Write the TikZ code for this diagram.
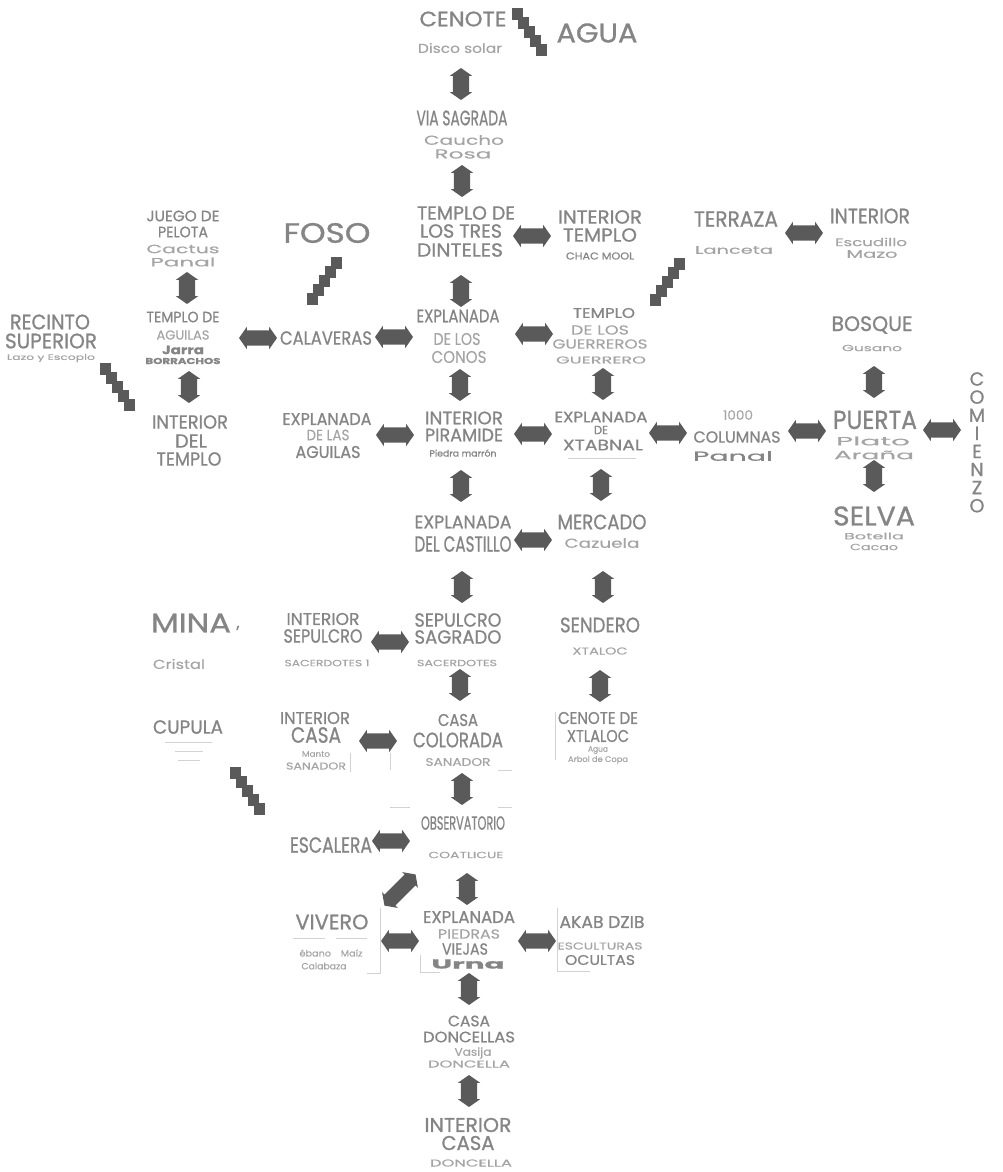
\documentclass[tikz,border=0pt]{standalone}
\usepackage{fontspec}
\usepackage{graphicx}
\setmainfont{Poppins}[FakeBold=0.9]
\newfontfamily\lightf{Poppins}[FakeBold=0.3]
\usetikzlibrary{shapes.arrows}
\definecolor{tx}{HTML}{858585}
\definecolor{txl}{HTML}{A4A4A4}
\definecolor{ar}{HTML}{5A5A5A}
\definecolor{fl}{HTML}{D2D2D2}
\newcommand\W[2]{\resizebox{#1pt}{\height}{#2}}
\newcommand\stairD[2]{\foreach \i in {0,...,4}{\fill[ar] ({#1+6*\i},{#2+9*\i}) rectangle ++(11,12);}}
\newcommand\stairU[2]{\foreach \i in {0,...,4}{\fill[ar] ({#1+6*\i},{#2-9*\i}) rectangle ++(11,-12);}}
\tikzset{
  every node/.style={inner sep=0pt, outer sep=0pt},
  T/.style={text=tx, font=\fontsize{#1}{#1}\selectfont},
  S/.style={text=txl, font=\lightf\fontsize{#1}{#1}\selectfont},
  B/.style={text=tx, font=\bfseries\fontsize{#1}{#1}\selectfont},
  harrow/.style={double arrow, fill=ar, minimum height=38pt, inner xsep=0pt, inner ysep=7.5pt,
    double arrow head extend=3.5pt, double arrow tip angle=110},
  varrow/.style={double arrow, fill=ar, rotate=90, minimum height=32pt, inner xsep=0pt, inner ysep=8pt,
    double arrow head extend=3pt, double arrow tip angle=110},
  faint/.style={draw=fl, line width=0.8pt},
}
\begin{document}
\begin{tikzpicture}[x=1pt,y=-1pt]
\useasboundingbox (0,0) rectangle (1003,1172);
% ---------- texts ----------
\node[T=21] (cenote) at (463,19) {\W{87}{CENOTE}};
\node[S=13] (disco) at (460,48) {\W{84}{Disco solar}};
\node[T=27] (agua) at (597,33) {\W{81}{AGUA}};
\node[T=21] (via) at (462,118) {\W{91}{VIA SAGRADA}};
\node[S=13] (caucho) at (464,140) {\W{80}{Caucho}};
\node[S=13] (rosa) at (463,154) {\W{57}{Rosa}};
\node[T=19] (tdd1) at (466,213) {\W{98}{TEMPLO DE}};
\node[T=19] (tdd2) at (461,231) {\W{82}{LOS TRES}};
\node[T=19] (tdd3) at (460,250) {\W{86}{DINTELES}};
\node[T=19] (it1) at (600,217) {\W{84}{INTERIOR}};
\node[T=19] (it2) at (600,235) {\W{74}{TEMPLO}};
\node[T=10] (it3) at (600,256) {\W{68}{CHAC MOOL}};
\node[T=22] (terr) at (736,219) {\W{84}{TERRAZA}};
\node[S=11] (lanc) at (734,250) {\W{78}{Lanceta}};
\node[T=21] (int1) at (870,216) {\W{80}{INTERIOR}};
\node[S=11] (int2) at (871,242) {\W{72}{Escudillo}};
\node[S=11] (int3) at (872,254) {\W{51}{Mazo}};
\node[T=15] (jp1) at (183,216) {\W{73}{JUEGO DE}};
\node[T=15] (jp2) at (183,232) {\W{50}{PELOTA}};
\node[S=12] (jp3) at (183,249) {\W{73}{Cactus}};
\node[S=12] (jp4) at (183,262) {\W{65}{Panal}};
\node[T=28] (foso) at (327,233) {\W{87}{FOSO}};
\node[T=21] (rec1) at (50,322) {\W{80}{RECINTO}};
\node[T=21] (rec2) at (51,341) {\W{92}{SUPERIOR}};
\node[S=8] (rec3) at (51,358) {\W{88}{Lazo y Escoplo}};
\node[T=15] (ta1) at (183,317) {\W{73}{TEMPLO DE}};
\node[S=13] (ta2) at (183,335) {\W{53}{AGUILAS}};
\node[B=12] (ta3) at (183,350) {\W{42}{Jarra}};
\node[B=8.5] (ta4) at (183,361) {\W{75}{BORRACHOS}};
\node[T=19] (itp1) at (190,422) {\W{76}{INTERIOR}};
\node[T=19] (itp2) at (191,441) {\W{32}{DEL}};
\node[T=19] (itp3) at (189,459) {\W{65}{TEMPLO}};
\node[T=19] (cal) at (326,338) {\W{92}{CALAVERAS}};
\node[T=18] (con1) at (458,316) {\W{83}{EXPLANADA}};
\node[S=17] (con2) at (457,339) {\W{47}{DE LOS}};
\node[S=17] (con3) at (459,357) {\W{55}{CONOS}};
\node[T=14] (tg1) at (604,313) {\W{62}{TEMPLO}};
\node[S=13] (tg2) at (600,330) {\W{58}{DE LOS}};
\node[S=13] (tg3) at (600,344) {\W{95}{GUERREROS}};
\node[S=10] (tg4) at (601,360) {\W{90}{GUERRERO}};
\node[T=15] (xt1) at (601,417) {\W{93}{EXPLANADA}};
\node[T=12] (xt2) at (601,430) {\W{14}{DE}};
\node[T=15] (xt3) at (603,445) {\W{80}{XTABNAL}};
\draw[faint] (568,458) -- (636,458);
\node[T=17] (ea1) at (327,419) {\W{89}{EXPLANADA}};
\node[S=15] (ea2) at (328,435) {\W{43}{DE LAS}};
\node[T=17] (ea3) at (328,452) {\W{65}{AGUILAS}};
\node[T=18] (pir1) at (464,418) {\W{78}{INTERIOR}};
\node[T=18] (pir2) at (464,435) {\W{78}{PIRAMIDE}};
\node[T=9] (pir3) at (463,453) {\W{67}{Piedra marrón}};
\node[S=13] (col1) at (738,415) {\W{30}{1000}};
\node[T=16] (col2) at (737,437) {\W{87}{COLUMNAS}};
\node[T=13] (col3) at (733,456) {\W{80}{Panal}};
\node[T=21] (bos1) at (872,325) {\W{81}{BOSQUE}};
\node[S=9] (bos2) at (872,348) {\W{60}{Gusano}};
\node[T=26] (pue1) at (875,420) {\W{84}{PUERTA}};
\node[S=12] (pue2) at (873,441) {\W{74}{Plato}};
\node[S=12] (pue3) at (874,455) {\W{80}{Araña}};
\node[T=27] (selva) at (874,516) {\W{82}{SELVA}};
\node[S=9] (sel2) at (874,536) {\W{60}{Botella}};
\node[S=9] (sel3) at (874,547) {\W{48}{Cacao}};
\foreach \c [count=\k] in {C,O,M,I,E,N,Z,O}
  \node[T=19] (com\k) at (977,{379+18.1*(\k-1)}) {\c};
\node[T=18] (cas1) at (463,522) {\W{97}{EXPLANADA}};
\node[T=22] (cas2) at (463,544) {\W{97}{DEL CASTILLO}};
\node[T=21] (mer1) at (602,522) {\W{89}{MERCADO}};
\node[S=13] (mer2) at (602,543) {\W{75}{Cazuela}};
\node[T=27] (mina) at (191,623) {\W{80}{MINA}};
\node[T=16] (minac) at (238,628) {,};
\node[S=13] (cris) at (179,664) {\W{52}{Cristal}};
\node[T=17] (is1) at (323,619) {\W{73}{INTERIOR}};
\node[T=19] (is2) at (323,636) {\W{79}{SEPULCRO}};
\node[S=9] (is3) at (327,663) {\W{85}{SACERDOTES 1}};
\node[T=19] (ss1) at (458,620) {\W{87}{SEPULCRO}};
\node[T=19] (ss2) at (458,637) {\W{87}{SAGRADO}};
\node[S=9] (ss3) at (457,663) {\W{80}{SACERDOTES}};
\node[T=21] (sen1) at (600,625) {\W{80}{SENDERO}};
\node[S=10] (sen2) at (600,651) {\W{55}{XTALOC}};
\node[T=19] (cup) at (188,727) {\W{70}{CUPULA}};
\draw[faint] (165,742) -- (212,742);
\draw[faint] (175,751) -- (203,751);
\draw[faint] (178,760) -- (200,760);
\node[T=17] (ic1) at (315,718) {\W{70}{INTERIOR}};
\node[T=22] (ic2) at (316,735) {\W{50}{CASA}};
\node[S=8] (ic3) at (316,754) {\W{28}{Manto}};
\node[S=10] (ic4) at (316,766) {\W{60}{SANADOR}};
\node[T=17] (cc1) at (458,720) {\W{40}{CASA}};
\node[T=21] (cc2) at (458,740) {\W{90}{COLORADA}};
\node[S=11] (cc3) at (458,762) {\W{65}{SANADOR}};
\node[T=17] (cx1) at (598,718) {\W{80}{CENOTE DE}};
\node[T=17] (cx2) at (598,736) {\W{62}{XTLALOC}};
\node[S=8] (cx3) at (598,750) {\W{20}{Agua}};
\node[S=8] (cx4) at (598,760) {\W{60}{Arbol de Copa}};
\node[T=19] (obs) at (463,823) {\W{84}{OBSERVATORIO}};
\node[S=9] (coa) at (466,855) {\W{75}{COATLICUE}};
\node[T=22] (esc) at (331,845) {\W{82}{ESCALERA}};
\node[T=21] (viv) at (332,922) {\W{73}{VIVERO}};
\draw[faint] (293,938) -- (325,938) (336,938) -- (367,938);
\node[S=9] (viv3) at (331,953) {\W{63}{ébano\quad Maíz}};
\node[S=9] (viv4) at (324,966) {\W{45}{Calabaza}};
\node[T=17] (ep1) at (469,917) {\W{92}{EXPLANADA}};
\node[S=13] (ep2) at (469,934) {\W{62}{PIEDRAS}};
\node[T=16] (ep3) at (465,949) {\W{46}{VIEJAS}};
\node[B=13] (ep4) at (468,964) {\W{73}{Urna}};
\node[T=17] (ak1) at (602,922) {\W{85}{AKAB DZIB}};
\node[S=10] (ak2) at (600,946) {\W{85}{ESCULTURAS}};
\node[T=14] (ak3) at (600,960) {\W{70}{OCULTAS}};
\node[T=15] (cd1) at (469,1021) {\W{42}{CASA}};
\node[T=15] (cd2) at (469,1037) {\W{92}{DONCELLAS}};
\node[S=11] (cd3) at (473,1053) {\W{37}{Vasija}};
\node[S=10] (cd4) at (469,1064) {\W{82}{DONCELLA}};
\node[T=20] (icd1) at (468,1125) {\W{87}{INTERIOR}};
\node[T=20] (icd2) at (468,1143) {\W{53}{CASA}};
\node[S=10] (icd3) at (471,1163) {\W{82}{DONCELLA}};
% faint frames
\draw[faint] (380,908) -- (380,973) -- (367,973);
\draw[faint] (557,908) -- (557,971) -- (590,971);
\draw[faint] (420,955) -- (420,972) -- (440,972);
\draw[faint] (555,712) -- (555,760);
\draw[faint] (350,753) -- (350,772);
\draw[faint] (390,753) -- (390,770);
\draw[faint] (498,770) -- (512,770);
\draw[faint] (390,807) -- (410,807) (498,807) -- (512,807);
% ---------- stairs ----------
\stairD{512}{8}
\stairU{307}{305}
\stairU{650}{306}
\stairD{100}{363}
\stairD{230}{767}
% ---------- vertical arrows ----------
\node[varrow] (a1) at (461,84) {};
\node[varrow] (a2) at (462,181) {};
\node[varrow] (a3) at (461,291) {};
\node[varrow] (a4) at (460,385) {};
\node[varrow] (a5) at (461,486) {};
\node[varrow] (a6) at (462,587) {};
\node[varrow] (a7) at (460,685) {};
\node[varrow] (a8) at (462,789) {};
\node[varrow] (a9) at (467,889) {};
\node[varrow] (a10) at (469,989) {};
\node[varrow] (a11) at (469,1091) {};
\node[varrow] (a12) at (603,384) {};
\node[varrow] (a13) at (601,485) {};
\node[varrow] (a14) at (603,587) {};
\node[varrow] (a15) at (600,686) {};
\node[varrow] (a16) at (187,288) {};
\node[varrow] (a17) at (189,387) {};
\node[varrow] (a18) at (874,382) {};
\node[varrow] (a19) at (874,476) {};
% ---------- horizontal arrows ----------
\node[harrow] (b1) at (532,236) {};
\node[harrow] (b2) at (804,233) {};
\node[harrow] (b3) at (258,338) {};
\node[harrow] (b4) at (394,337) {};
\node[harrow] (b5) at (534,334) {};
\node[harrow] (b6) at (395,435) {};
\node[harrow] (b7) at (533,434) {};
\node[harrow] (b8) at (668,433) {};
\node[harrow] (b9) at (807,431) {};
\node[harrow] (b10) at (942,430) {};
\node[harrow] (b11) at (533,540) {};
\node[harrow] (b12) at (390,642) {};
\node[harrow] (b13) at (378,741) {};
\node[harrow] (b14) at (391,841) {};
\node[harrow] (b15) at (400,941) {};
\node[harrow] (b16) at (537,941) {};
\node[harrow, rotate=45, minimum height=44pt] (b17) at (400,890) {};
\end{tikzpicture}
\end{document}
